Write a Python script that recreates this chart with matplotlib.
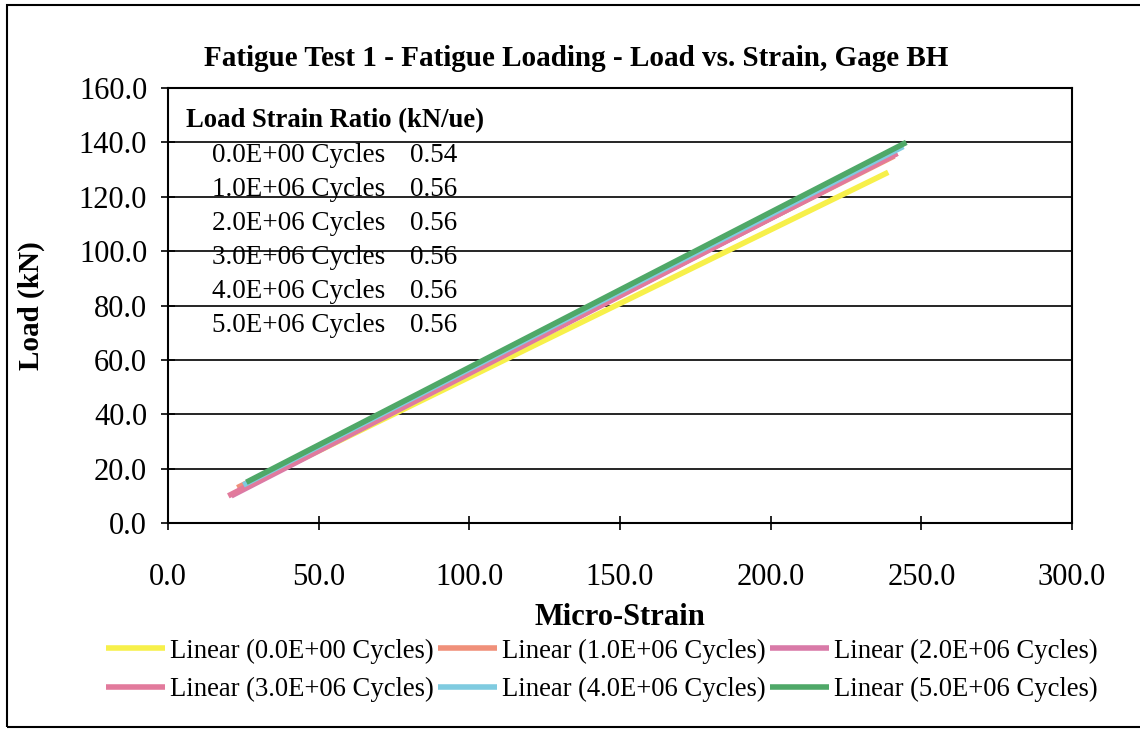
import matplotlib.pyplot as plt
from matplotlib.patches import Rectangle

# trendline endpoints (micro-strain, kN)
cycles = ['0.0E+00', '1.0E+06', '2.0E+06', '3.0E+06', '4.0E+06', '5.0E+06']
ratios = [0.54, 0.56, 0.56, 0.56, 0.56, 0.56]
x_start = [25.0, 23.0, 21.0, 20.0, 25.0, 26.0]
x_end = [239.0, 241.0, 242.0, 242.0, 244.0, 245.0]
y_start = [13.0, 13.0, 10.0, 10.0, 14.0, 15.0]
y_end = [129.0, 135.0, 136.0, 136.0, 138.5, 140.0]
colors = ['#f7f04a', '#f0907a', '#d97aa8', '#e27a9c', '#7fcbe0', '#4fa868']

plt.rcParams['font.family'] = ['Liberation Serif', 'DejaVu Serif']

fig = plt.figure(figsize=(11.4, 7.31), dpi=100)
ax = fig.add_axes([0.1474, 0.2845, 0.7930, 0.5951])

lines = []
for i in range(len(cycles)):
    ln, = ax.plot([x_start[i], x_end[i]], [y_start[i], y_end[i]], color=colors[i],
                  lw=4, solid_capstyle='butt', label=f'Linear ({cycles[i]} Cycles)')
    lines.append(ln)

ax.set_xlim(0, 300)
ax.set_ylim(0, 160)
ax.set_xticks(range(0, 301, 50))
ax.set_yticks(range(0, 161, 20))
ax.set_xticklabels([f'{v:.1f}' for v in range(0, 301, 50)])
ax.set_yticklabels([f'{v:.1f}' for v in range(0, 161, 20)])
ax.tick_params(direction='inout', length=10, width=1.2, labelsize=22, colors='black', pad=10)
ax.tick_params(axis='x', pad=24)
ax.grid(True, axis='y', color='black', lw=1.2)
for s in ax.spines.values():
    s.set_linewidth(1.5)

ax.set_title('Fatigue Test 1 - Fatigue Loading - Load vs. Strain, Gage BH',
             fontsize=21, fontweight='bold', pad=16, x=0.452)
ax.set_xlabel('Micro-Strain', fontsize=22, fontweight='bold', labelpad=8)
ax.set_ylabel('Load (kN)', fontsize=21, fontweight='bold', labelpad=24)

# ratio table inside the plot
ax.text(0.020, 0.926, 'Load Strain Ratio (kN/ue)', transform=ax.transAxes,
        fontsize=19.2, fontweight='bold', va='center', ha='left')
for i in range(len(cycles)):
    yy = 0.846 - i * 0.0786
    ax.text(0.049, yy, f'{cycles[i]} Cycles', transform=ax.transAxes,
            fontsize=19.5, va='center', ha='left')
    ax.text(0.268, yy, f'{ratios[i]:.2f}', transform=ax.transAxes,
            fontsize=19.5, va='center', ha='left')

order = [0, 3, 1, 4, 2, 5]
ax.legend([lines[k] for k in order], [lines[k].get_label() for k in order],
          loc='upper center', bbox_to_anchor=(0.48, -0.21), ncol=3, frameon=False,
          fontsize=19.2, handlelength=2.2, handletextpad=0.2, columnspacing=0.15,
          labelspacing=0.5)

fig.add_artist(Rectangle((0.006, 0.006), 0.995, 0.987, transform=fig.transFigure,
                         fill=False, edgecolor='black', lw=1.5))

fig.savefig('out.png', dpi=100)
